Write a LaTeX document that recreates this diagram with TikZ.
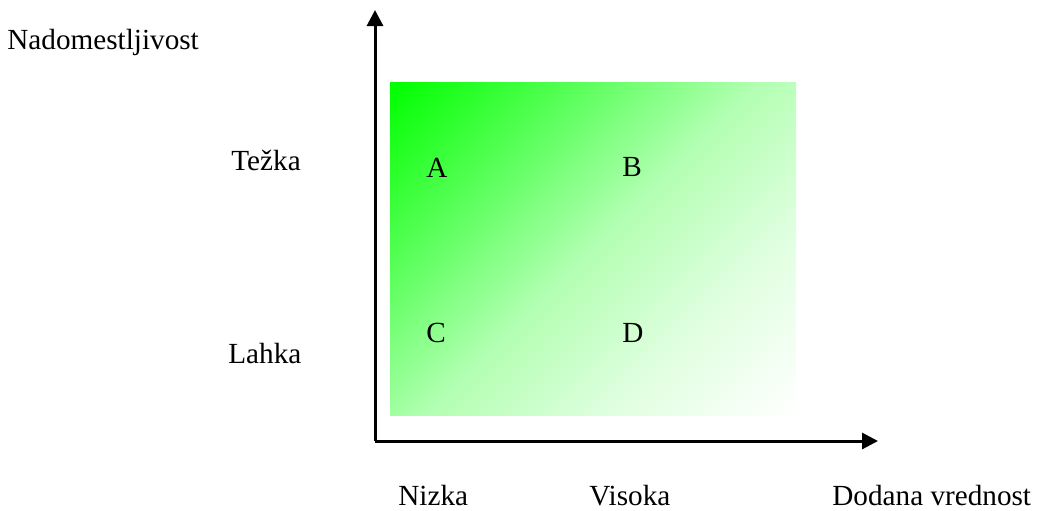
\documentclass[tikz,border=0pt]{standalone}
\usepackage{fontspec}
\setmainfont{Liberation Serif}
\usepackage{tikz}
\usetikzlibrary{arrows.meta}
\definecolor{zelena}{RGB}{0,255,0}
% preliv od zelene (levo zgoraj) do bele (desno spodaj)
\pgfdeclareverticalshading{zelpreliv}{100bp}{color(0bp)=(white); color(14.64bp)=(white);
    color(32.32bp)=(zelena!12!white); color(50bp)=(zelena!30!white);
    color(67.68bp)=(zelena!66!white); color(85.36bp)=(zelena); color(100bp)=(zelena)}

\begin{document}
\begin{tikzpicture}[x=0.5pt, y=-0.5pt,
        font=\fontsize{14.6}{17}\selectfont,
        lbl/.style={anchor=base west, inner sep=0pt},
        os/.style={line width=1.5pt, -{Triangle[length=8pt, width=8pt]}}
    ]
    \useasboundingbox (0,0) rectangle (1048,510);
    % polje z barvnim prelivom
    \shade[shading=zelpreliv, shading angle=45] (390,82) rectangle (796,415);
    % osi
    \coordinate (izhodisce) at (375,441);
    \coordinate (yvrh) at (375,10);
    \coordinate (xvrh) at (878,441);
    \draw[os] (izhodisce) -- (yvrh);
    \draw[os] (izhodisce) -- (xvrh);
    % oznake
    \node[lbl] (nadom) at (7,49)    {Nadomestljivost};
    \node[lbl] (tezka) at (231,170) {Težka};
    \node[lbl] (lahka) at (228,363) {Lahka};
    \node[lbl] (a) at (426,177) {A};
    \node[lbl] (b) at (622,176) {B};
    \node[lbl] (c) at (426,342) {C};
    \node[lbl] (d) at (622,342) {D};
    \node[lbl] (nizka) at (398,505)  {Nizka};
    \node[lbl] (visoka) at (589,505) {Visoka};
    \node[lbl] (dodana) at (832,505) {Dodana vrednost};
\end{tikzpicture}
\end{document}
